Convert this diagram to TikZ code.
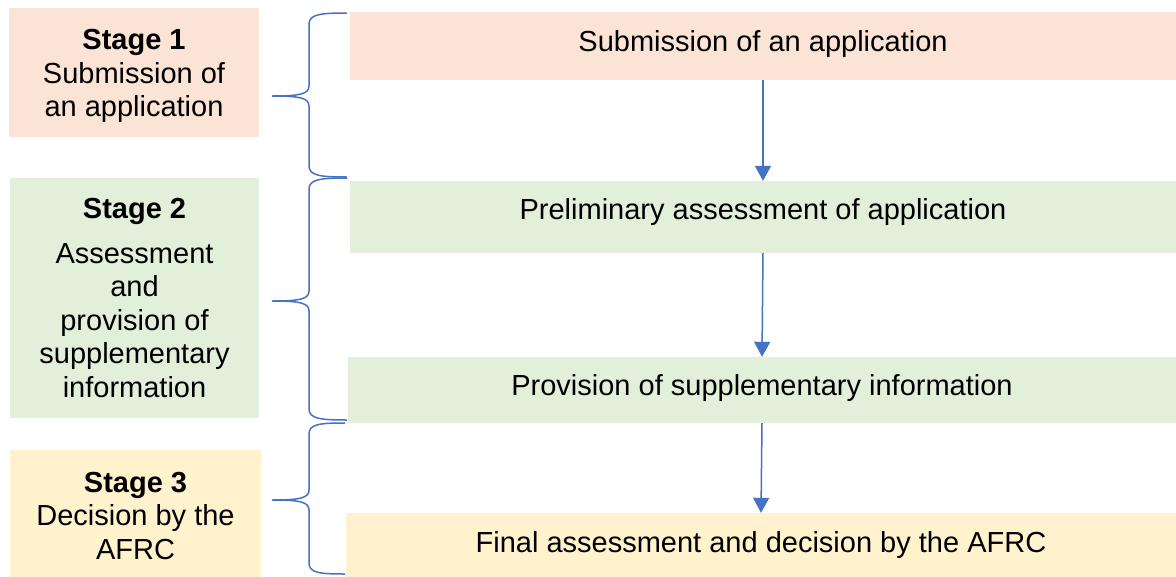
\documentclass[tikz,border=0pt]{standalone}
\usepackage{fontspec}
\setmainfont{Liberation Sans}
\usetikzlibrary{arrows.meta}
\definecolor{peach}{HTML}{FBE4D5}
\definecolor{lgreen}{HTML}{E2EFDA}
\definecolor{lyellow}{HTML}{FFF2CC}
\definecolor{arrowblue}{HTML}{4472C4}
\newcommand\stagebrace[4]{%
  \draw[bracestyle] (#4,#1) .. controls ({#4-25},#1) and (309,{#1+1}) .. (309,{#1+11})
    -- (309,{#2-10}) .. controls (309,{#2-2}) and (300,#2) .. (272,#2)
    .. controls (300,#2) and (309,{#2+2}) .. (309,{#2+10})
    -- (309,{#3-11}) .. controls (309,{#3-1}) and ({#4-25},#3) .. (#4,#3);}
\begin{document}
\begin{tikzpicture}[x=1pt,y=-1pt,
  box/.style={fill=#1, draw=none, inner sep=0pt, align=center,
    font=\fontsize{29}{33.5}\selectfont},
  flow/.style={draw=arrowblue, line width=1.5pt,
    -{Triangle[width=16pt,length=15pt]}},
  bracestyle/.style={draw=arrowblue, line width=1.5pt}]
\useasboundingbox (0,0) rectangle (1176,576);
% left stage boxes
\node[box=peach, minimum width=250pt, minimum height=129pt] (s1) at (134,72.5)
  {\rule{0pt}{28pt}\textbf{Stage 1}\\Submission of\\an application};
\node[box=lgreen, minimum width=249pt, minimum height=240pt] (s2) at (134.5,298)
  {\textbf{Stage 2}\\[11pt]Assessment\\and\\provision of\\supplementary\\information};
\node[box=lyellow, minimum width=251pt, minimum height=128pt] (s3) at (135.5,514)
  {\rule{0pt}{24pt}\textbf{Stage 3}\\Decision by the\\AFRC};
% right process boxes
\node[box=peach, minimum width=826pt, minimum height=68pt] (r1) at (763,46)
  {\raisebox{10pt}{Submission of an application}};
\node[box=lgreen, minimum width=826pt, minimum height=72pt] (r2) at (763,217)
  {\raisebox{16pt}{Preliminary assessment of application}};
\node[box=lgreen, minimum width=828pt, minimum height=66pt] (r3) at (762,390)
  {\raisebox{11pt}{Provision of supplementary information}};
\node[box=lyellow, minimum width=830pt, minimum height=64pt] (r4) at (761,545)
  {\raisebox{3pt}{Final assessment and decision by the AFRC}};
% arrows
\draw[flow] (r1.south) -- (r2.north);
\draw[flow] (r2.south) -- (r3.north);
\draw[flow] (r3.south) -- (r4.north);
% braces
\stagebrace{13}{96}{177}{347}
\stagebrace{178}{301}{420}{347}
\stagebrace{423}{500}{574}{345}
\end{tikzpicture}
\end{document}
